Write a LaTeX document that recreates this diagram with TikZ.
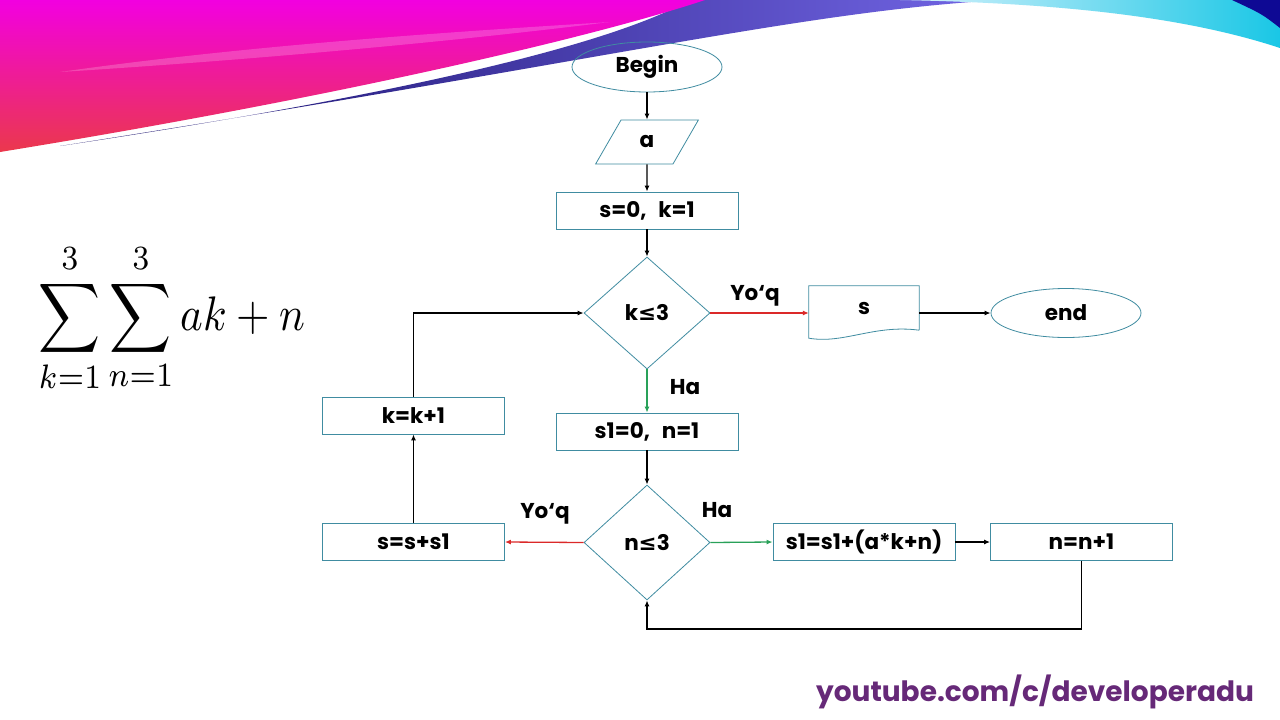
\documentclass[tikz,border=0pt]{standalone}
\usepackage[no-math]{fontspec}
\setmainfont{Poppins}
\newfontfamily\symfont{DejaVu Sans}
\usetikzlibrary{shapes.geometric,arrows.meta,calc}

\newlength{\du}
\setlength{\du}{1pt}
\newcommand{\leqsign}{{\symfont\bfseries ≤}}
\newcommand{\gapsp}{\hspace{0.55em}}

\definecolor{shapeline}{rgb}{0.250000, 0.550000, 0.630000}
\definecolor{yesline}{rgb}{0.160000, 0.630000, 0.350000}
\definecolor{noline}{rgb}{0.860000, 0.160000, 0.160000}
\definecolor{linkcolor}{rgb}{0.400000, 0.160000, 0.470000}
\definecolor{pinktop}{rgb}{0.950000, 0.000000, 0.880000}
\definecolor{redbottom}{rgb}{0.920000, 0.220000, 0.300000}
\definecolor{navyband}{rgb}{0.080000, 0.050000, 0.400000}
\definecolor{blueband}{rgb}{0.450000, 0.400000, 0.900000}
\definecolor{cyanband}{rgb}{0.100000, 0.780000, 0.900000}
\definecolor{paleband}{rgb}{0.850000, 0.950000, 0.990000}

\tikzset{
  flowtext/.style={font=\fontsize{21.5}{24}\selectfont\bfseries},
  blockbox/.style={flowtext, rectangle, draw=shapeline, line width=0.8\du,
    minimum width=182\du, minimum height=37\du, inner sep=0pt},
  termbox/.style={flowtext, ellipse, draw=shapeline, line width=0.8\du,
    minimum width=150\du, minimum height=50\du, inner sep=0pt},
  inbox/.style={flowtext, trapezium, trapezium left angle=60, trapezium right angle=120,
    draw=shapeline, line width=0.8\du, minimum width=103\du, minimum height=35\du, inner sep=0pt},
  testbox/.style={flowtext, diamond, draw=shapeline, line width=0.8\du, aspect=1.125,
    minimum width=126\du, minimum height=112\du, inner sep=0pt},
  branchtext/.style={flowtext},
  link/.style={-{Latex[length=6pt,width=5pt]}, line width=1.3\du, black},
  yeslink/.style={link, yesline},
  nolink/.style={link, noline}
}

\begin{document}
\begin{tikzpicture}
\pgftransformxscale{1.000000}
\pgftransformyscale{-1.000000}
\useasboundingbox (0\du,0\du) rectangle (1280\du,720\du);
\fill[white] (0\du,0\du) rectangle (1280\du,720\du);

% banner
\shade[left color=navyband, right color=blueband] (60\du,146\du) .. controls (400\du,95\du) and (610\du,45\du) .. (690\du,0\du) -- (1000\du,0\du) .. controls (800\du,12\du) and (620\du,58\du) .. (60\du,146\du) -- cycle;
\shade[top color=pinktop, bottom color=redbottom] (0\du,0\du) -- (705\du,0\du) .. controls (600\du,35\du) and (350\du,95\du) .. (0\du,152\du) -- cycle;
\fill[white, opacity=0.2] (60\du,72\du) .. controls (250\du,45\du) and (450\du,32\du) .. (610\du,22\du) .. controls (450\du,42\du) and (250\du,60\du) .. (60\du,72\du) -- cycle;
\shade[left color=paleband, right color=cyanband] (900\du,0\du) -- (1280\du,0\du) -- (1280\du,48\du) .. controls (1180\du,15\du) and (1050\du,3\du) .. (900\du,0\du) -- cycle;
\fill[navyband!70!blue] (1232\du,0\du) -- (1280\du,0\du) -- (1280\du,28\du) .. controls (1262\du,14\du) .. (1232\du,0\du) -- cycle;

% formula
\node (formula) at (172\du,318\du){\scalebox{4.3}[4.85]{$\displaystyle\sum_{k=1}^{3}\sum_{n=1}^{3} ak+n$}};

% shapes
\node[termbox] (begin) at (647\du,67\du){Begin};
\node[inbox] (inp) at (647\du,142\du){a};
\node[blockbox] (init) at (647\du,210.5\du){s=0,\gapsp k=1};
\node[testbox] (kcond) at (647\du,313\du){k\leqsign3};
\node[rectangle, minimum width=110\du, minimum height=44\du, inner sep=0pt, flowtext] (out) at (864\du,308\du){s};
\draw[shapeline, line width=0.8\du] (out.south east) -- (out.north east) -- (out.north west) -- ($(out.south west)+(0,8\du)$) .. controls ($(out.south west)+(35\du,14\du)$) and ($(out.south east)+(-45\du,-6\du)$) .. (out.south east);
\node[termbox, minimum height=49\du] (fin) at (1066\du,313\du){end};
\node[blockbox] (ninit) at (647\du,431.5\du){s1=0,\gapsp n=1};
\node[testbox, aspect=1.1, minimum height=115\du] (ncond) at (647\du,542.5\du){n\leqsign3};
\node[blockbox] (sum) at (413.5\du,542\du){s=s+s1};
\node[blockbox] (kinc) at (413.5\du,415.5\du){k=k+1};
\node[blockbox] (body) at (864\du,542\du){s1=s1+(a*k+n)};
\node[blockbox] (ninc) at (1081.5\du,542\du){n=n+1};

% branch labels
\node[branchtext] (kno) at (755\du,296\du){Yo‘q};
\node[branchtext] (kyes) at (685\du,387\du){Ha};
\node[branchtext] (nyes) at (717\du,510\du){Ha};
\node[branchtext] (nno) at (545\du,514\du){Yo‘q};

% connectors
\draw[link] (begin) -- (inp);
\draw[link] (inp) -- (init);
\draw[link] (init) -- (kcond);
\draw[nolink] (kcond.east) -- (kcond.east -| out.west);
\draw[link] (out.east |- fin.west) -- (fin.west);
\draw[yeslink] (kcond.south) -- (ninit.north);
\draw[link] (ninit) -- (ncond);
\draw[yeslink] (ncond.east) -- (body.west);
\draw[link] (body) -- (ninc);
\draw[link] (ninc.south) -- ++(0,68\du) -| (ncond.south);
\draw[nolink] (ncond.west) -- (sum.east);
\draw[link] (sum) -- (kinc);
\draw[link] (kinc.north) |- (kcond.west);

% footer
\node[text=linkcolor, font=\fontsize{28}{31}\selectfont\bfseries] (site) at (1035\du,692\du){youtube.com/c/developeradu};
\end{tikzpicture}
\end{document}
